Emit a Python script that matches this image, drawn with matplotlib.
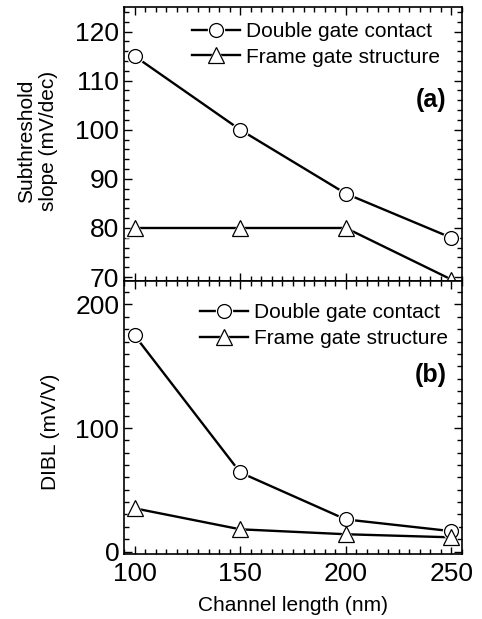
import matplotlib
matplotlib.use("Agg")
import matplotlib.pyplot as plt
from matplotlib.legend_handler import HandlerTuple
from matplotlib.ticker import MultipleLocator

plt.rcParams['font.family'] = ['Liberation Sans', 'DejaVu Sans']

# channel length (nm)
length = [100, 150, 200, 250]
# subthreshold slope (mV/dec)
ss_double = [115, 100, 87, 78]
ss_frame = [80, 80, 80, 69.5]
# DIBL (mV/V)
dibl_double = [175, 64, 26, 16.5]
dibl_frame = [35, 18, 14, 11.5]

labels = ['Double gate contact', 'Frame gate structure']

fig = plt.figure(figsize=(4.82, 6.19), dpi=100)
ax1 = fig.add_axes([0.2573, 0.5460, 0.7012, 0.4427])
ax2 = fig.add_axes([0.2573, 0.1050, 0.7012, 0.4410])


def series(ax, x, y, marker, ms):
    ln, = ax.plot(x, y, color='black', lw=1.7, zorder=2)
    gap, = ax.plot(x, y, ls='none', marker=marker, ms=ms + 2.5, mfc='white',
                   mec='none', zorder=3)
    mk, = ax.plot(x, y, ls='none', marker=marker, ms=ms, mfc='white',
                  mec='black', mew=0.9, zorder=4)
    return (ln, gap, mk)


def style(ax):
    ax.set_xlim(95, 255)
    ax.xaxis.set_major_locator(MultipleLocator(50))
    ax.xaxis.set_minor_locator(MultipleLocator(5))
    ax.tick_params(which='both', direction='in', top=True, right=True,
                   labelsize=19, width=1.0)
    ax.tick_params(which='major', length=6)
    ax.tick_params(which='minor', length=3.5)
    for s in ax.spines.values():
        s.set_linewidth(1.2)
        s.set_zorder(5)


h1 = series(ax1, length, ss_double, 'o', 10)
h2 = series(ax1, length, ss_frame, '^', 12)
style(ax1)
ax1.set_ylim(69.2, 125)
ax1.yaxis.set_major_locator(MultipleLocator(10))
ax1.yaxis.set_minor_locator(MultipleLocator(2))
ax1.tick_params(labelbottom=False)
ax1.legend([h1, h2], labels, handler_map={tuple: HandlerTuple(ndivide=1)},
           loc='upper left', bbox_to_anchor=(0.201, 0.945), frameon=False,
           fontsize=15, borderpad=0, borderaxespad=0, handlelength=2.3,
           handletextpad=0.3, labelspacing=0.32, numpoints=1)
ax1.text(0.955, 0.66, '(a)', transform=ax1.transAxes, ha='right',
         va='center', fontsize=18, fontweight='bold')

g1 = series(ax2, length, dibl_double, 'o', 10)
g2 = series(ax2, length, dibl_frame, '^', 12)
style(ax2)
ax2.set_ylim(-2, 219)
ax2.yaxis.set_major_locator(MultipleLocator(100))
ax2.yaxis.set_minor_locator(MultipleLocator(10))
ax2.tick_params(axis='x', pad=6)
ax2.legend([g1, g2], labels, handler_map={tuple: HandlerTuple(ndivide=1)},
           loc='upper left', bbox_to_anchor=(0.225, 0.918), frameon=False,
           fontsize=15, borderpad=0, borderaxespad=0, handlelength=2.3,
           handletextpad=0.3, labelspacing=0.32, numpoints=1)
ax2.text(0.955, 0.656, '(b)', transform=ax2.transAxes, ha='right',
         va='center', fontsize=18, fontweight='bold')

fig.text(0.077, 0.772, 'Subthreshold\nslope (mV/dec)', rotation=90,
         ha='center', va='center', multialignment='center', fontsize=15)
fig.text(0.104, 0.302, 'DIBL (mV/V)', rotation=90, ha='center',
         va='center', fontsize=15)
fig.text(0.608, 0.0226, 'Channel length (nm)', ha='center', va='center',
         fontsize=15)

fig.savefig('out.png', dpi=100)
